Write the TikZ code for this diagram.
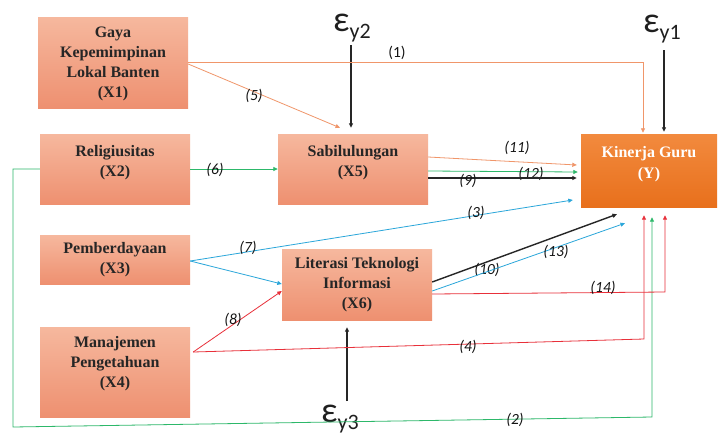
\documentclass[tikz,border=0pt]{standalone}
\usepackage{fontspec}
\setmainfont{Liberation Serif}
\newfontfamily\calib{Carlito}
\usetikzlibrary{arrows.meta,calc,shadings}
\definecolor{salT}{HTML}{F6B89E}
\definecolor{salB}{HTML}{EE9070}
\definecolor{orT}{HTML}{F28A3E}
\definecolor{orB}{HTML}{E8701C}
\definecolor{lOr}{HTML}{F0966A}
\definecolor{lGr}{HTML}{2DB86A}
\definecolor{lBl}{HTML}{2AA6DA}
\definecolor{lRd}{HTML}{E8303A}
\begin{document}
\begin{tikzpicture}[x=1pt,y=-1pt,
  box/.style={rectangle,top color=salT,bottom color=salB,draw=none,inner sep=0pt},
  btxt/.style={align=center,font=\fontsize{16}{20}\selectfont\bfseries,text=black!85,inner sep=0pt},
  ybox/.style={rectangle,top color=orT,bottom color=orB,draw=none,inner sep=0pt},
  ytxt/.style={align=center,font=\fontsize{16}{21}\selectfont\bfseries,text=white,inner sep=0pt},
  tip/.style={-{Triangle[length=4.5pt,width=4pt]}},
  conn/.style={tip,line width=0.8pt},
  blk/.style={tip,line width=1.4pt,black!85},
  lab/.style={font=\calib\fontsize{15.5}{17}\selectfont\itshape,inner sep=1pt,text=black!92},
  eps/.style={font=\calib\fontsize{36}{36}\selectfont,inner sep=0pt,text=black!88}]
\useasboundingbox (0,0) rectangle (719,434);
\fill[white] (0,0) rectangle (719,434);
% boxes
\node[box,minimum width=150pt,minimum height=91pt] (X1) at (113,62.5) {};
\node[btxt] (X1t) at ([yshift=-1pt]X1.center) {Gaya\\Kepemimpinan\\Lokal Banten\\(X1)};
\node[box,minimum width=150pt,minimum height=70pt] (X2) at (115,169) {};
\node[btxt] (X2t) at ([yshift=6pt]X2.center) {Religiusitas\\(X2)};
\node[box,minimum width=150pt,minimum height=70pt] (X5) at (353,169) {};
\node[btxt] (X5t) at ([yshift=6pt]X5.center) {Sabilulungan\\(X5)};
\node[ybox,minimum width=136pt,minimum height=73pt] (Y) at (649,170.5) {};
\node[ytxt] (Yt) at ([yshift=6pt]Y.center) {Kinerja Guru\\(Y)};
\node[box,minimum width=150pt,minimum height=49pt] (X3) at (115,259.5) {};
\node[btxt] (X3t) at (X3.center) {Pemberdayaan\\(X3)};
\node[box,minimum width=150pt,minimum height=71pt] (X6) at (357,284.5) {};
\node[btxt] (X6t) at (X6.center) {Literasi Teknologi\\Informasi\\(X6)};
\node[box,minimum width=150pt,minimum height=90pt] (X4) at (115,372) {};
\node[btxt] (X4t) at ([yshift=8pt]X4.center) {Manajemen\\Pengetahuan\\(X4)};
% epsilons
\node[eps,anchor=base west] (E2) at (333,31) {ε\raisebox{-7pt}{\fontsize{22}{22}\selectfont y2}};
\node[eps,anchor=base west] (E1) at (643,32) {ε\raisebox{-7pt}{\fontsize{22}{22}\selectfont y1}};
\node[eps,anchor=base west] (E3) at (321,422) {ε\raisebox{-7pt}{\fontsize{22}{22}\selectfont y3}};
\coordinate (e2s) at (351,45);
\coordinate (e1s) at (664,50);
\coordinate (e3s) at (347,401);
\draw[blk,line width=1.1pt] (e2s) -- ([xshift=-2pt,yshift=6pt]X5.north);
\draw[blk,line width=1.1pt] (e1s) -- ([xshift=15pt,yshift=2pt]Y.north);
\draw[blk,line width=1.1pt] (e3s) -- ([xshift=-10pt,yshift=-7pt]X6.south);
% (1)
\draw[conn,lOr] ([yshift=0.5pt]X1.east) -- (643,62) -- ([xshift=-6pt,yshift=1pt]Y.north);
\node[lab,font=\calib\fontsize{15.5}{17}\selectfont] (l1) at (397,53) {(1)};
% (5)
\draw[conn,lOr] ([yshift=-1.5pt]X1.east) -- ([xshift=-13pt,yshift=6pt]X5.north);
\node[lab] (l5) at (254,96) {(5)};
% (6)
\draw[conn,lGr] (X2.east) -- (X5.west);
\node[lab] (l6) at (215,170) {(6)};
% (2)
\draw[conn,lGr] (X2.west) -- (13,169) -- (13,427) -- (652,417) -- ([xshift=3pt,yshift=-10pt]Y.south);
\node[lab] (l2) at (515,420) {(2)};
% (11) (12) (9)
\draw[conn,lOr] ([yshift=12pt]X5.east) -- ([xshift=-4pt,yshift=5.5pt]Y.west);
\node[lab] (l11) at (517,148) {(11)};
\draw[conn,lGr] ([yshift=-2pt]X5.east) -- ([xshift=-3pt,yshift=-1.5pt]Y.west);
\node[lab] (l12) at (531,174) {(12)};
\draw[blk] ([yshift=-9pt]X5.east) -- ([xshift=-4pt,yshift=-7.5pt]Y.west);
\node[lab] (l9) at (468,181) {(9)};
% (3) (7)
\draw[conn,lBl] ([yshift=-1.5pt]X3.east) -- ([xshift=-8pt,yshift=-29.5pt]Y.west);
\node[lab] (l3) at (476,213) {(3)};
\draw[conn,lBl] ([yshift=-1.5pt]X3.east) -- ([yshift=0.5pt]X6.west);
\node[lab] (l7) at (248,248) {(7)};
% (8) (4)
\draw[conn,lRd] ([xshift=3pt,yshift=20pt]X4.east) -- ([yshift=-6.5pt]X6.west);
\node[lab] (l8) at (233,320) {(8)};
\draw[conn,lRd] ([xshift=3pt,yshift=20pt]X4.east) -- (644,339) -- ([xshift=-5pt,yshift=-8pt]Y.south);
\node[lab] (l4) at (468,347) {(4)};
% (10) (13) (14)
\draw[blk] ([yshift=2.5pt]X6.east) -- ([xshift=-32pt,yshift=-7pt]Y.south);
\node[lab] (l10) at (487,270) {(10)};
\draw[conn,lBl] ([yshift=-6.5pt]X6.east) -- ([xshift=-24pt,yshift=-16pt]Y.south);
\node[lab] (l13) at (556,252) {(13)};
\draw[conn,lRd] ([yshift=-9.5pt]X6.east) -- (665,292) -- ([xshift=16pt,yshift=-8pt]Y.south);
\node[lab] (l14) at (603,288) {(14)};
\end{tikzpicture}
\end{document}
